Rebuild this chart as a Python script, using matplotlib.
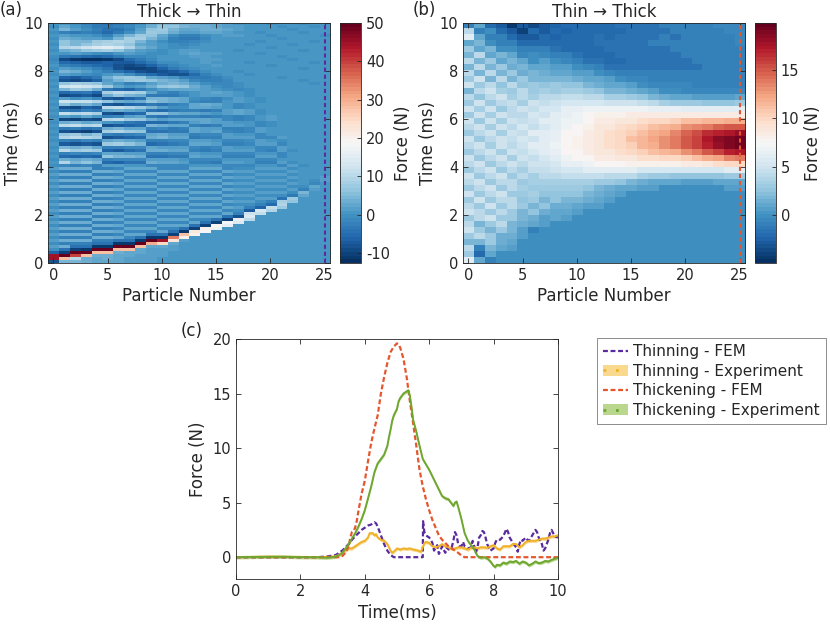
import numpy as np
import matplotlib
matplotlib.use("Agg")
import matplotlib.pyplot as plt
from matplotlib.patches import Patch
from matplotlib.lines import Line2D

plt.rcParams["font.family"] = ["DejaVu Sans"]
plt.rcParams["text.color"] = "#262626"
plt.rcParams["axes.labelcolor"] = "#262626"
plt.rcParams["axes.unicode_minus"] = False

# ---- panel (a): force per particle, 0.125 ms bins, rows from t=10 (top) down to t=0
particles = np.arange(26)
force_thick_to_thin = [
    [1, 1, 0, -2, -3, -4, -3, -2, 0, 3, 5, 5, 4, 4, 3, 3, 2, 1, 1, 1, 0, 1, 1, 0, 1, 1],
    [0, 3, 1, -1, -3, -3, -2, -1, 1, 4, 6, 6, 5, 4, 4, 3, 2, 2, 1, 1, 1, 0, 1, 1, 0, 1],
    [1, 5, 2, 0, -2, -4, -4, -2, 2, 6, 7, 5, 3, 3, 4, 4, 3, 2, 1, 1, 1, 1, 0, 1, 1, 1],
    [0, -2, -3, -2, -3, -5, -3, 0, 3, 7, 6, 4, 2, 2, 3, 3, 2, 1, 1, 0, 1, 1, 1, 0, 1, 1],
    [1, 2, 1, 1, 0, -2, 2, 5, 7, 6, 3, 0, -2, -2, 0, 1, 2, 2, 1, 1, 0, 1, 1, 1, 1, 0],
    [0, 4, 3, 2, 2, 1, 5, 8, 8, 5, 2, -2, -3, -3, -1, 1, 1, 1, 1, 1, 1, 0, 1, 1, 1, 1],
    [1, 6, 5, 5, 7, 8, 9, 8, 5, 2, 0, -2, -2, -1, 0, 1, 1, 1, 1, 0, 1, 1, 1, 1, 0, 1],
    [0, 6, 5, 6, 8, 9, 8, 6, 3, 2, 1, 0, -1, 0, 1, 1, 1, 1, 0, 1, 1, 1, 0, 1, 1, 1],
    [1, 9, 10, 12, 14, 15, 13, 9, 5, 3, 1, 0, 0, 1, 1, 1, 1, 1, 1, 1, 0, 1, 1, 1, 1, 1],
    [0, 4, 5, 6, 7, 8, 6, 4, 2, 1, 0, 1, 2, 2, 1, 1, 1, 0, 1, 1, 1, 1, 1, 0, 1, 1],
    [1, 1, 2, 1, 0, -1, 1, 2, 1, 0, 0, 1, 2, 3, 2, 2, 1, 1, 1, 0, 1, 1, 1, 1, 1, 1],
    [0, -3, -4, -5, -6, -5, -3, -1, -1, 0, 1, 1, 1, 2, 2, 1, 1, 1, 1, 1, 1, 0, 1, 1, 1, 1],
    [-1, -9, -11, -12, -12, -11, -9, -5, -3, -1, 1, 1, 1, 1, 2, 2, 1, 1, 1, 1, 1, 1, 0, 1, 1, 1],
    [0, -5, -6, -7, -7, -6, -7, -7, -5, -3, 0, 0, 1, 1, 2, 1, 1, 1, 0, 1, 1, 1, 1, 1, 0, 1],
    [1, -2, -3, -4, -5, -6, -8, -9, -8, -6, -3, -1, 0, 1, 1, 2, 1, 1, 1, 1, 0, 1, 1, 1, 1, 1],
    [0, 2, 1, 0, -2, -4, -8, -10, -10, -9, -6, -3, -1, 0, 1, 1, 1, 1, 1, 1, 1, 1, 1, 0, 1, 1],
    [1, 5, 4, 2, 0, -2, -4, -6, -8, -9, -8, -7, -5, -2, 0, 1, 1, 0, 1, 1, 1, 1, 1, 1, 1, 1],
    [0, 2, 1, 0, -1, 1, 2, 0, -3, -5, -7, -8, -8, -5, -2, 0, 1, 1, 0, 1, 1, 1, 1, 1, 1, 1],
    [1, -6, -7, -5, -3, 4, 6, 7, 6, 3, 2, 1, -2, -3, -3, -2, 0, 1, 1, 1, 1, 0, 1, 1, 1, 1],
    [0, -8, -9, -8, -6, 2, 5, 6, 7, 6, 5, 4, 2, -1, -2, -2, -1, 1, 1, 1, 1, 1, 1, 0, 1, 1],
    [1, 6, 8, 7, 6, 3, 1, -2, -1, 2, 4, 5, 4, 2, 0, -1, -1, 0, 1, 1, 1, 1, 1, 1, 0, 1],
    [0, 12, 13, 12, 11, 7, 3, 1, 2, 4, 6, 7, 6, 4, 2, 0, -1, 0, 1, 1, 1, 1, 1, 1, 1, 1],
    [1, 5, 7, 6, 4, -3, -5, -6, -3, 0, 2, 3, 3, 3, 2, 1, 0, -1, 0, 1, 1, 1, 1, 1, 1, 1],
    [0, -5, -4, -3, -6, 8, 10, 9, 8, 3, -1, -2, 0, 1, 2, 3, 2, 1, 0, 1, 1, 1, 1, 1, 1, 1],
    [1, -9, -8, -7, -9, 4, 6, 5, 4, -3, -3, -3, -1, 1, 2, 2, 2, 1, 0, 1, 1, 1, 1, 1, 1, 1],
    [0, 2, 0, 1, -1, -7, -8, -6, -4, 5, 5, 4, 3, 0, -1, -2, 0, 2, 1, 0, 1, 1, 1, 1, 1, 1],
    [1, 12, 11, 11, 9, 6, 4, 3, 4, 6, 5, 4, 3, -1, -2, -2, 1, 2, 1, 0, 1, 1, 1, 1, 1, 1],
    [0, 6, 4, 5, 3, -7, -8, -6, -5, -3, -4, -2, -1, 3, 4, 3, 1, -1, 0, 1, 1, 1, 1, 1, 1, 1],
    [1, -8, -9, -6, -7, 10, 11, 9, 7, 5, 2, 0, 0, 3, 3, 2, 1, -1, 0, 1, 1, 1, 1, 1, 1, 1],
    [0, -3, -4, -2, -3, 3, 4, 3, 2, -4, -5, -3, -2, -2, -3, -2, 2, 3, 2, 0, 1, 1, 1, 1, 1, 1],
    [1, 11, 9, 10, 8, -8, -9, -6, -5, 6, 6, 4, 3, 3, 2, 1, 2, 3, 2, 0, 1, 1, 1, 1, 1, 1],
    [0, 2, 1, 3, 1, -2, -1, 2, 3, -3, -4, -2, -2, -2, -3, -2, -1, -2, -1, 1, 2, 1, 1, 1, 1, 1],
    [1, -9, -10, -8, -9, 9, 10, 7, 6, 4, 2, 3, 3, 3, 3, 2, -1, -2, -1, 1, 2, 1, 1, 1, 1, 1],
    [0, 4, 5, 3, 4, 1, 0, -3, -4, -5, -5, -3, -2, 2, 3, 2, 2, 1, 1, -1, 0, 1, 1, 1, 1, 1],
    [1, 10, 11, 9, 10, -8, -7, -6, -5, 5, 4, 3, 3, -2, -3, -2, 2, 2, 1, -1, 0, 1, 1, 1, 1, 1],
    [0, -3, -2, -4, -3, 4, 5, 3, 3, -2, -1, -3, -2, 3, 2, 2, -2, -2, -1, 2, 1, 1, 1, 1, 1, 1],
    [1, -8, -9, -10, -8, 8, 9, 7, 6, -4, -4, -3, -3, 3, 2, 3, -1, -2, -1, 2, 1, 1, 1, 1, 1, 1],
    [0, 6, 7, 5, 6, -2, -3, -2, -1, 3, 4, 2, 2, -2, -1, -1, 2, 1, 1, -1, 1, 1, 1, 1, 1, 1],
    [1, 9, 10, 9, 8, -8, -7, -6, -5, 4, 5, 3, 3, -3, -2, -2, 2, 2, 2, -1, -1, 2, 1, 1, 1, 1],
    [0, -2, -3, -1, -2, 3, 4, 3, 2, -2, -2, -1, -1, 2, 2, 1, -1, -1, 0, 2, 1, 0, 1, 1, 1, 1],
    [1, -7, -8, -7, -8, 7, 8, 6, 5, -5, -4, -3, -2, 3, 3, 2, -2, -2, -1, 2, 2, -1, 1, 1, 1, 1],
    [0, 5, 4, 5, 3, -2, -2, -1, -1, 3, 2, 2, 2, -1, -2, -1, 2, 1, 1, -1, -1, 2, 1, 1, 1, 1],
    [1, 10, 7, 8, 7, -6, -7, -5, -4, 4, 4, 3, 3, -2, -3, -2, 2, 2, 2, -1, -2, 2, 0, 1, 1, 1],
    [0, -2, -1, -2, -1, 3, 3, 2, 2, -2, -2, -1, -1, 2, 1, 1, -1, -1, -1, 1, 1, -1, 1, 1, 1, 1],
    [1, -5, -6, -5, -6, 6, 5, 5, 4, -4, -4, -3, -3, 3, 2, 2, -2, -2, -2, 2, 2, -1, 1, 1, 1, 1],
    [0, 4, 3, 4, 3, -2, -1, -1, -1, 2, 2, 2, 1, -1, -1, -1, 1, 1, 1, -1, -1, 1, 1, 1, 1, 1],
    [1, 9, 5, 6, 5, -5, -6, -4, -4, 4, 3, 3, 2, -2, -2, -3, 2, 2, 1, -2, -2, 2, 0, 1, 1, 1],
    [0, -1, -2, -1, -2, 2, 2, 1, 1, -1, -1, -1, -1, 1, 1, 1, -1, -1, -1, 1, 1, -1, 2, 0, 1, 1],
    [2, 4, 4, 4, -2, -2, -1, 3, 3, 3, -1, -1, -1, 3, 3, 3, -1, 0, 0, 2, 2, 2, 0, 1, 1, 1],
    [0, -2, -2, -2, 4, 4, 3, -1, -1, -1, 3, 3, 3, -1, -1, -1, 3, 2, 2, 0, 0, 0, 2, 1, 1, 1],
    [2, 4, 4, 4, -2, -2, -1, 3, 3, 3, -1, -1, -1, 3, 3, 3, -1, 0, 0, 2, 2, 2, 0, 1, 1, 1],
    [0, -2, -2, -2, 4, 4, 3, -1, -1, -1, 3, 3, 3, -1, -1, -1, 3, 2, 2, 0, 0, 0, 2, 1, 1, 2],
    [2, 4, 4, 4, -2, -2, -1, 3, 3, 3, -1, -1, -1, 3, 3, 3, -1, 0, 0, 2, 2, 2, 0, 1, 0, 2],
    [0, -2, -2, -2, 4, 4, 3, -1, -1, -1, 3, 3, 3, -1, -1, -1, 3, 2, 2, 0, 0, 0, 2, 1, -1, 1],
    [2, 4, 4, 4, -2, -2, -1, 3, 3, 3, -1, -1, -1, 3, 3, 3, -1, 0, 0, 2, 2, 2, 0, 0, 3, 1],
    [0, -2, -2, -2, 4, 4, 3, -1, -1, -1, 3, 3, 3, -1, -1, -1, 3, 2, 2, 0, 0, 0, 2, -2, 2, 1],
    [2, 4, 4, 4, -2, -2, -1, 3, 3, 3, -1, -1, -1, 3, 3, 3, -1, 0, 0, 2, 2, 2, 0, 5, 1, 1],
    [0, -2, -2, -2, 4, 4, 3, -1, -1, -1, 3, 3, 3, -1, -1, -1, 3, 2, 2, 0, 0, 0, -3, 3, 1, 1],
    [2, 4, 4, 4, -2, -2, -1, 3, 3, 3, -1, -1, -1, 3, 3, 3, -1, 0, 0, 2, 2, -4, 7, 1, 1, 1],
    [0, -2, -2, -2, 4, 4, 3, -1, -1, -1, 3, 3, 3, -1, -1, -1, 3, 2, 2, 0, -2, 8, 6, 1, 1, 1],
    [2, 4, 4, 4, -2, -2, -1, 3, 3, 3, -1, -1, -1, 3, 3, 3, -1, 0, 0, -2, -5, 9, 1, 1, 1, 1],
    [0, -2, -2, -2, 4, 4, 3, -1, -1, -1, 3, 3, 3, -1, -1, -1, 3, 2, -2, -6, 11, 7, 1, 1, 1, 1],
    [2, 4, 4, 4, -2, -2, -1, 3, 3, 3, -1, -1, -1, 3, 3, 3, -1, 0, -7, 13, 9, 1, 1, 1, 1, 1],
    [0, -2, -2, -2, 4, 4, 3, -1, -1, -1, 3, 3, 3, -1, -1, -1, 3, -2, 12, 11, 1, 1, 1, 1, 1, 1],
    [2, 4, 4, 4, -2, -2, -1, 3, 3, 3, -1, -1, -1, 3, 3, 3, -4, -8, 14, 1, 1, 1, 1, 1, 1, 1],
    [0, -2, -2, -2, 4, 4, 3, -1, -1, -1, 3, 3, 3, -1, -1, -4, -10, 16, 10, 1, 1, 1, 1, 1, 1, 1],
    [2, 4, 4, 4, -2, -2, -1, 3, 3, 3, -1, -1, -1, 3, -4, -10, 18, 14, 1, 1, 1, 1, 1, 1, 1, 1],
    [0, -2, -2, -2, 4, 4, 3, -1, -1, -1, 3, 3, 3, -4, -10, 19, 16, 1, 1, 1, 1, 1, 1, 1, 1, 1],
    [2, 4, 4, 4, -2, -2, -1, 3, 3, 3, -1, -1, -4, -10, 20, 17, 1, 1, 1, 1, 1, 1, 1, 1, 1, 1],
    [0, -2, -2, -2, 4, 4, 3, -1, -1, -1, 3, -4, -11, 22, 18, 1, 1, 1, 1, 1, 1, 1, 1, 1, 1, 1],
    [2, 4, 4, 4, -2, -2, -1, 3, 3, -4, -4, -10, 28, 20, 1, 1, 1, 1, 1, 1, 1, 1, 1, 1, 1, 1],
    [0, -2, -2, -2, 4, 4, 3, -1, -4, -11, -11, 35, 20, 1, 1, 1, 1, 1, 1, 1, 1, 1, 1, 1, 1, 1],
    [2, 4, 4, 4, -2, -2, -4, -4, -11, 50, 45, 22, 2, 1, 1, 1, 1, 1, 1, 1, 1, 1, 1, 1, 1, 1],
    [0, -2, -2, -2, -4, -4, -11, -11, 50, 30, 25, 3, 1, 1, 1, 1, 1, 1, 1, 1, 1, 1, 1, 1, 1, 1],
    [2, 4, -4, -4, -11, -11, 50, 50, 28, 3, 3, 2, 1, 1, 1, 1, 1, 1, 1, 1, 1, 1, 1, 1, 1, 1],
    [0, -4, -10, -11, 50, 50, 28, 28, 3, 2, 2, 2, 1, 1, 1, 1, 1, 1, 1, 1, 1, 1, 1, 1, 1, 1],
    [-6, -10, 50, 50, 28, 28, 4, 3, 3, 2, 2, 1, 1, 1, 1, 1, 1, 1, 1, 1, 1, 1, 1, 1, 1, 1],
    [45, 50, 40, 28, 4, 4, 3, 3, 2, 2, 2, 1, 1, 1, 1, 1, 1, 1, 1, 1, 1, 1, 1, 1, 1, 1],
    [45, 28, 10, 4, 3, 4, 3, 2, 2, 2, 1, 1, 1, 1, 1, 1, 1, 1, 1, 1, 1, 1, 1, 1, 1, 1],
    [-8, 5, 5, 4, 3, 3, 3, 2, 2, 2, 1, 1, 1, 1, 1, 1, 1, 1, 1, 1, 1, 1, 1, 1, 1, 1],
]

# ---- panel (b): force per particle, 0.25 ms bins, rows from t=10 (top) down to t=0
force_thin_to_thick = [
    [-1, 1, -2, -3, -4.5, -3, -3.5, -3, -2.5, -2, -2, -2, -2, -2, -1.5, -1.5, -1.5, -1.5, -1, -1, -1, -1, -1, -0.5, -0.5, -0.5],
    [4, -1, 0, -2, -3, -4, -2, -3, -2, -2.5, -2, -2, -2, -2, -2, -1.5, -1.5, -1.5, -1.5, -1, -1, -1, -1, -1, -0.5, -0.5],
    [6, 1, -1, -1, -2, -3, -3, -2, -2.5, -2, -2, -2, -1.5, -2, -1.5, -1.5, -1.5, -1.5, -1, -1.5, -1, -1, -1, -1, -1, -0.5],
    [1, 2, 0, -1, -1, -2, -2, -2, -2, -2, -2, -2, -1.5, -1.5, -1.5, -1.5, -1.5, -1, -1, -1, -1, -1, -1, -1, -1, -0.5],
    [3, 1, 2, 0, 0, -1, -1, -1, -1.5, -2, -2, -2, -2, -1.5, -1.5, -1.5, -1.5, -1.5, -1.5, -1, -1, -1, -1, -1, -1, -1],
    [2, 4, 1, 2, 1, -0.5, 0, -0.5, -1, -1, -1.5, -2, -2, -2, -1.5, -1.5, -1.5, -1.5, -1.5, -1.5, -1, -1, -1, -1, -1, -1],
    [4, 2, 3, 1, 2, 1, 0, 0.5, 0, -0.5, -1, -1.5, -1.5, -2, -2, -1.5, -1.5, -1.5, -1.5, -1.5, -1.5, -1, -1, -1, -1, -1],
    [2, 4, 2, 3, 1.5, 2, 1, 1, 0.5, 0.5, 0, -0.5, -1, -1.5, -1.5, -1.5, -1.5, -1.5, -1.5, -1.5, -1.5, -1.5, -1, -1, -1, -1],
    [4, 2, 4, 2, 3, 1.5, 2, 1.5, 1, 1, 0.5, 0.5, 0, -0.5, -1, -1, -1, -1, -1, -1, -1, -1, -1, -1, -1, -1],
    [3, 5, 2, 4, 2, 3, 2, 2, 2, 2, 1.5, 1, 1, 0.5, 0, -0.5, -0.5, -1, -1, -1, -1, -1, -1, -1, -1, -1],
    [5, 3, 4, 2.5, 4, 2.5, 3, 2.5, 3, 2.5, 2.5, 2, 1.5, 1, 1, 0.5, 0, -0.5, -0.5, -0.5, -0.5, -1, -1, -1, -1, -1],
    [2, 4, 5, 3.5, 3, 4, 3, 3.5, 3, 3.5, 3.5, 3, 2.5, 2, 2, 1.5, 1, 0.5, 0, 0, -0.5, -0.5, -0.5, -0.5, -0.5, -0.5],
    [4, 2.5, 4, 5, 3.5, 4, 3.5, 4, 4, 4.5, 4.5, 4, 4, 3.5, 3.5, 3, 2.5, 2, 1.5, 1, 1, 0.5, 0.5, 0.5, 0.5, 1],
    [3, 5, 3, 4, 4.5, 3.5, 5, 4.5, 5, 5.5, 5.5, 5.5, 5.5, 5, 5, 5, 4.5, 4, 3.5, 3, 3, 3, 2.5, 2.5, 2.5, 3],
    [5, 3.5, 5, 3, 4, 5, 4.5, 5.5, 5.5, 6.5, 6.5, 7, 7, 7, 7, 7, 7, 6.5, 6.5, 6.5, 6, 6, 6, 6, 6, 6],
    [3, 5, 3.5, 5, 4, 4, 5.5, 5, 6, 6.5, 7, 7.5, 8, 8, 8, 8.5, 8.5, 8.5, 8.5, 8.5, 8.5, 8.5, 8.5, 8.5, 8.5, 8.5],
    [5, 3, 5, 3.5, 5, 4.5, 5, 6, 6, 7, 7, 7.5, 8.5, 8.5, 9, 9, 9.5, 10, 10, 10.5, 11, 11, 11.5, 11.5, 12, 12],
    [4, 5, 3.5, 5, 4, 5.5, 4.5, 5.5, 6, 7, 7.5, 8, 9, 9, 9.5, 10, 10.5, 11, 11.5, 12, 13, 13.5, 14, 14.5, 15, 15],
    [3, 4, 5, 3.5, 5, 4.5, 6, 6, 6.5, 7.5, 7.5, 8.5, 9, 9.5, 10, 10.5, 11, 12, 12.5, 13.5, 14.5, 15.5, 16.5, 17, 17.5, 18],
    [5, 3, 4, 5, 4.5, 5.5, 5, 6, 6.5, 7.5, 8, 8.5, 9, 9.5, 10, 11, 11.5, 12.5, 13, 14, 15, 16, 17.5, 18.5, 19, 19.5],
    [4, 5, 3.5, 5, 4, 5, 6, 6, 7, 7.5, 8, 8.5, 9, 9.5, 10, 10.5, 11.5, 12, 13, 14, 15, 16, 17, 18, 19, 19.5],
    [3, 4, 5, 3.5, 5, 4.5, 5.5, 6, 6.5, 7.5, 7.5, 8.5, 9, 9, 9.5, 10, 10.5, 11, 11.5, 12, 13, 14, 15, 16, 17, 17.5],
    [5, 3, 4, 5, 3.5, 5, 4.5, 5.5, 6, 7, 7.5, 7.5, 8.5, 8.5, 9, 9, 9.5, 9.5, 10, 10, 10.5, 11, 12, 12.5, 13.5, 14],
    [4, 5, 3, 4, 5, 4, 5, 5, 5.5, 6.5, 6.5, 7, 7.5, 7.5, 7.5, 8, 8, 8, 8, 8, 8.5, 8.5, 9, 9.5, 10, 10],
    [3, 4, 5, 3, 4, 3.5, 4.5, 4.5, 5, 5.5, 5.5, 6, 6, 6, 6, 6, 5.5, 5.5, 5.5, 5.5, 5.5, 5.5, 5.5, 5.5, 6, 6],
    [5, 3, 4, 5, 3, 4, 3.5, 4, 4, 4.5, 4.5, 4.5, 4.5, 4, 4, 4, 3.5, 3, 3, 2.5, 2.5, 2.5, 2.5, 2.5, 3, 3],
    [4, 5, 3, 4, 4, 3, 3.5, 3.5, 3.5, 3.5, 3.5, 3.5, 3, 3, 2.5, 2, 1.5, 1, 1, 1, 0.5, 0.5, 0.5, 1, 1, 1],
    [3, 4, 5, 3, 4, 3.5, 3, 3, 3, 3, 3, 2.5, 2, 1.5, 1, 1, 0.5, 0.5, 0, 0, 0, 0, 0, 0, 0.5, 0.5],
    [5, 3, 4, 5, 3, 3, 3.5, 2.5, 2.5, 2.5, 2.5, 2, 1.5, 1, 0.5, 0, 0, 0, 0, 0, 0, 0, 0, 0, 0, 0],
    [3, 5, 3, 4, 4, 2.5, 3, 2, 2.5, 2, 2, 1.5, 1, 0.5, 0, 0, 0, 0, 0, 0, 0, 0, 0, 0, 0, 0],
    [4, 3, 5, 3, 4, 3, 2, 2.5, 1.5, 1.5, 1, 0.5, 0.5, 0, 0, 0, 0, 0, 0, 0, 0, 0, 0, 0, 0, 0],
    [5, 4, 3, 4, 3, 2, 2.5, 1.5, 1, 1, 0.5, 0, 0, 0, 0, 0, 0, 0, 0, 0, 0, 0, 0, 0, 0, 0],
    [3, 4, 5, 3, 3, 2, 1.5, 0.5, 1, 0.5, 0, 0, 0, 0, 0, 0, 0, 0, 0, 0, 0, 0, 0, 0, 0, 0],
    [4, 2, 3, 4, 2, 1.5, 1, 0.5, 0, 0, 0, 0, 0, 0, 0, 0, 0, 0, 0, 0, 0, 0, 0, 0, 0, 0],
    [5, 3, 2, 3, 2, 0.5, -1, 0, 0, 0, 0, 0, 0, 0, 0, 0, 0, 0, 0, 0, 0, 0, 0, 0, 0, 0],
    [3, 4, 3, 1.5, 1.5, 0.5, 0, 0, 0, 0, 0, 0, 0, 0, 0, 0, 0, 0, 0, 0, 0, 0, 0, 0, 0, 0],
    [2, 2, 3, 1.5, 1, 0, 0, 0, 0, 0, 0, 0, 0, 0, 0, 0, 0, 0, 0, 0, 0, 0, 0, 0, 0, 0],
    [4, -1, 2, 1, 0.5, 0, 0, 0, 0, 0, 0, 0, 0, 0, 0, 0, 0, 0, 0, 0, 0, 0, 0, 0, 0, 0],
    [3, -2, 1, 0, 0, 0, 0, 0, 0, 0, 0, 0, 0, 0, 0, 0, 0, 0, 0, 0, 0, 0, 0, 0, 0, 0],
    [6, 1, -1, 0, -0.3, -0.3, -0.3, -0.3, -0.3, -0.3, -0.3, -0.3, -0.3, -0.3, -0.3, -0.3, -0.3, -0.3, -0.3, -0.3, -0.3, -0.3, -0.3, -0.3, -0.3, -0.3],
]

# ---- panel (c): force at the last particle
t_thin_fem = [0, 2.5, 2.8, 3.0, 3.1, 3.2, 3.3, 3.4, 3.5, 3.6, 3.7, 3.8, 3.9, 4.0, 4.1, 4.2, 4.3, 4.35, 4.4, 4.5,
              4.6, 4.7, 4.8, 4.9, 5.8, 5.81, 5.85, 5.9, 6.0, 6.05, 6.1, 6.15, 6.2, 6.25, 6.3, 6.35, 6.4, 6.5, 6.55, 6.6,
              6.7, 6.75, 6.8, 6.85, 6.9, 6.95, 7.0, 7.05, 7.1, 7.2, 7.3, 7.35, 7.4, 7.45, 7.5, 7.55, 7.6, 7.65, 7.7, 7.75,
              7.8, 7.85, 7.9, 8.0, 8.05, 8.1, 8.2, 8.3, 8.4, 8.45, 8.5, 8.6, 8.7, 8.75, 8.8, 8.85, 8.9, 9.0, 9.05, 9.1,
              9.2, 9.3, 9.35, 9.4, 9.5, 9.55, 9.6, 9.7, 9.75, 9.8, 9.85, 9.9, 10.0]
f_thin_fem = [0, 0, 0.05, 0.15, 0.2, 0.4, 0.6, 0.9, 1.2, 1.6, 1.9, 2.2, 2.5, 2.7, 2.9, 3.0, 3.2, 3.1, 2.8, 2.0,
              1.2, 0.6, 0.2, 0.0, 0.0, 3.3, 2.3, 2.0, 1.8, 1.6, 1.3, 0.6, 0.9, 1.1, 0.3, 0.6, 1.0, 0.4, 0.9, 0.7,
              0.9, 1.5, 2.3, 2.0, 1.2, 1.0, 1.0, 1.4, 1.0, 0.8, 0.9, 1.5, 1.0, 0.4, 0.9, 1.8, 2.0, 2.4, 2.3, 1.8,
              1.2, 0.9, 0.6, 0.8, 1.3, 1.6, 1.6, 1.9, 2.6, 2.3, 1.8, 1.3, 0.9, 0.5, 1.2, 1.6, 1.5, 1.8, 1.6, 1.5,
              2.0, 2.5, 2.3, 1.8, 1.2, 0.6, 0.8, 1.6, 2.2, 2.5, 2.2, 1.9, 1.8]

t_thin_exp = [0, 0.5, 1.0, 1.5, 2.0, 2.5, 2.8, 3.0, 3.1, 3.2, 3.3, 3.4, 3.5, 3.6, 3.7, 3.8, 3.9, 4.0, 4.1, 4.15,
              4.2, 4.25, 4.3, 4.35, 4.4, 4.5, 4.6, 4.7, 4.75, 4.8, 4.85, 4.9, 5.0, 5.1, 5.2, 5.3, 5.4, 5.5, 5.6, 5.7,
              5.75, 5.8, 5.85, 5.9, 6.0, 6.1, 6.2, 6.3, 6.4, 6.5, 6.6, 6.7, 6.8, 6.9, 7.0, 7.1, 7.2, 7.3, 7.4, 7.5,
              7.6, 7.7, 7.8, 7.9, 8.0, 8.1, 8.2, 8.3, 8.4, 8.5, 8.6, 8.7, 8.8, 8.9, 9.0, 9.1, 9.2, 9.3, 9.4, 9.5,
              9.6, 9.7, 9.8, 9.9, 10.0]
f_thin_exp = [0, 0.02, 0.05, 0.03, 0.02, 0.0, 0.02, 0.05, 0.1, 0.2, 0.4, 0.6, 0.8, 0.8, 1.0, 1.2, 1.4, 1.5, 1.8, 2.2,
              2.2, 2.2, 2.0, 2.1, 1.8, 1.6, 1.5, 1.2, 0.9, 0.6, 0.4, 0.5, 0.8, 0.7, 0.8, 0.75, 0.8, 0.7, 0.65, 0.55,
              0.5, 0.9, 1.3, 1.4, 1.3, 1.0, 0.9, 1.0, 1.2, 1.0, 0.9, 0.75, 0.8, 0.9, 0.9, 0.8, 0.7, 0.85, 0.9, 0.8,
              0.9, 0.9, 0.85, 1.0, 1.1, 0.8, 0.7, 1.0, 1.0, 1.0, 1.2, 1.2, 0.9, 1.1, 1.4, 1.5, 1.5, 1.5, 1.6, 1.7,
              1.7, 1.8, 1.9, 1.9, 2.0]

t_thick_fem = [0, 3.2, 3.3, 3.4, 3.5, 3.55, 3.6, 3.65, 3.7, 3.75, 3.8, 3.9, 4.0, 4.1, 4.2, 4.3, 4.4, 4.5, 4.6, 4.7,
               4.8, 4.9, 5.0, 5.05, 5.1, 5.2, 5.3, 5.4, 5.5, 5.6, 5.7, 5.8, 5.9, 6.0, 6.1, 6.2, 6.3, 6.4, 6.5, 6.6,
               6.7, 6.8, 6.9, 7.0, 7.1, 10.0]
f_thick_fem = [0, 0, 0.1, 0.4, 1.0, 1.8, 2.3, 2.4, 2.7, 3.3, 4.2, 5.8, 7.0, 8.8, 10.5, 11.8, 13.0, 15.0, 16.5, 17.8,
               18.8, 19.3, 19.6, 19.5, 19.2, 18.2, 16.5, 14.3, 12.3, 10.2, 8.0, 6.5, 5.3, 4.3, 3.4, 2.7, 2.0, 1.6, 1.3, 1.0,
               0.8, 0.6, 0.4, 0.15, 0.0, 0.0]

t_thick_exp = [0, 0.5, 1.0, 1.5, 2.0, 2.5, 2.8, 3.0, 3.1, 3.2, 3.3, 3.4, 3.5, 3.6, 3.7, 3.8, 3.9, 4.0, 4.1, 4.2,
               4.3, 4.4, 4.5, 4.6, 4.7, 4.75, 4.8, 4.85, 4.9, 5.0, 5.05, 5.1, 5.2, 5.3, 5.35, 5.4, 5.45, 5.5, 5.6, 5.7,
               5.8, 5.9, 6.0, 6.1, 6.2, 6.3, 6.4, 6.5, 6.6, 6.7, 6.75, 6.8, 6.85, 6.9, 7.0, 7.1, 7.2, 7.3, 7.4, 7.5,
               7.6, 7.7, 7.8, 7.9, 8.0, 8.05, 8.1, 8.2, 8.3, 8.4, 8.5, 8.6, 8.7, 8.8, 8.9, 9.0, 9.1, 9.2, 9.3, 9.4,
               9.5, 9.6, 9.7, 9.8, 9.9, 10.0]
f_thick_exp = [0, 0.02, 0.03, 0.04, 0.0, 0.0, -0.05, 0.0, 0.05, 0.2, 0.4, 0.8, 1.2, 1.7, 2.2, 2.8, 3.5, 4.3, 5.4, 6.5,
               7.8, 8.6, 9.0, 9.4, 10.2, 11.0, 11.7, 12.5, 13.0, 13.6, 14.3, 14.6, 15.0, 15.2, 15.3, 14.8, 13.8, 12.6, 11.5, 10.2,
               9.0, 8.5, 8.0, 7.4, 6.8, 6.2, 5.6, 5.4, 5.3, 4.9, 4.7, 5.0, 5.1, 4.6, 3.5, 2.2, 1.5, 1.1, 0.7, 0.1,
               -0.05, 0.0, -0.1, -0.4, -0.8, -0.9, -0.7, -0.75, -0.5, -0.6, -0.4, -0.45, -0.35, -0.6, -0.4, -0.5, -0.75, -0.6, -0.4, -0.55,
               -0.5, -0.35, -0.4, -0.25, -0.15, -0.05]

purple = "#5a2a9e"
red = "#e4572e"
yellow = "#f0b22c"
yellow_lt = "#f8d98e"
green = "#6ea730"
green_lt = "#b9d78f"
dark = "#262626"

W, H = 830, 628


def box(x0, y0, x1, y1):
    return [x0 / W, 1 - y1 / H, (x1 - x0) / W, (y1 - y0) / H]


def style(ax):
    ax.tick_params(direction="in", top=True, right=True, length=3.5, width=0.6,
                   colors=dark, labelsize=10.5)
    for s in ax.spines.values():
        s.set_color(dark)
        s.set_linewidth(0.6)


fig = plt.figure(figsize=(8.3, 6.28), dpi=100)
cmap = plt.get_cmap("RdBu_r", 64)

panels = [
    (force_thick_to_thin, -12.6, 50, [-10, 0, 10, 20, 30, 40, 50], "Thick \u2192 Thin", purple,
     box(48, 23, 330, 263), box(340, 23, 361, 263)),
    (force_thin_to_thick, -5.0, 19.9, [0, 5, 10, 15], "Thin \u2192 Thick", red,
     box(463, 23, 745, 263), box(755, 23, 776, 263)),
]
for data, lo, hi, cticks, title, lc, rect, crect in panels:
    ax = fig.add_axes(rect)
    im = ax.imshow(np.array(data, dtype=float), cmap=cmap, vmin=lo, vmax=hi, aspect="auto",
                   interpolation="nearest", extent=[particles[0] - 0.5, particles[-1] + 0.5, 0, 10])
    ax.axvline(particles[-1], color=lc, ls=(0, (2, 1.4)), lw=1.5)
    ax.set_xlim(-0.5, 25.5)
    ax.set_ylim(0, 10)
    ax.set_xticks([0, 5, 10, 15, 20, 25])
    ax.set_yticks([0, 2, 4, 6, 8, 10])
    ax.set_xlabel("Particle Number", fontsize=12, labelpad=3)
    ax.set_ylabel("Time (ms)", fontsize=12, labelpad=2)
    ax.set_title(title, fontsize=12, pad=4)
    style(ax)
    cax = fig.add_axes(crect)
    cb = fig.colorbar(im, cax=cax)
    cb.set_ticks(cticks)
    cb.ax.tick_params(direction="in", length=3, width=0.6, colors=dark, labelsize=10.5)
    cb.outline.set_edgecolor(dark)
    cb.outline.set_linewidth(0.6)
    cb.set_label("Force (N)", fontsize=12, labelpad=3)

axc = fig.add_axes(box(236, 339, 558, 579))
axc.plot(t_thin_fem, f_thin_fem, color=purple, ls=(0, (2.2, 1.2)), lw=1.6)
axc.fill_between(t_thin_exp, np.array(f_thin_exp) - 0.15, np.array(f_thin_exp) + 0.15, color=yellow_lt, lw=0)
axc.plot(t_thin_exp, f_thin_exp, color=yellow, lw=1.4)
axc.plot(t_thick_fem, f_thick_fem, color=red, ls=(0, (2.2, 1.2)), lw=1.6)
axc.fill_between(t_thick_exp, np.array(f_thick_exp) - 0.15, np.array(f_thick_exp) + 0.15, color=green_lt, lw=0)
axc.plot(t_thick_exp, f_thick_exp, color=green, lw=1.4)
axc.set_xlim(0, 10)
axc.set_ylim(-2, 20)
axc.set_xticks([0, 2, 4, 6, 8, 10])
axc.set_yticks([0, 5, 10, 15, 20])
axc.set_xlabel("Time(ms)", fontsize=12, labelpad=4)
axc.set_ylabel("Force (N)", fontsize=12)
style(axc)

handles = [
    Line2D([], [], color=purple, ls=(0, (2.2, 1.2)), lw=1.6),
    (Patch(facecolor=yellow_lt, edgecolor="none"), Line2D([], [], color=yellow, ls=(0, (1, 3.5)), lw=2)),
    Line2D([], [], color=red, ls=(0, (2.2, 1.2)), lw=1.6),
    (Patch(facecolor=green_lt, edgecolor="none"), Line2D([], [], color=green, ls=(0, (1, 3.5)), lw=2)),
]
labels = ["Thinning - FEM", "Thinning - Experiment", "Thickening - FEM", "Thickening - Experiment"]
leg = fig.legend(handles, labels, loc="upper left", bbox_to_anchor=(597 / W, 1 - 338 / H),
                 fontsize=11, frameon=True, fancybox=False, framealpha=1, edgecolor="#8c8c8c",
                 handlelength=1.6, handletextpad=0.35, borderpad=0.4, labelspacing=0.3, borderaxespad=0)
leg.get_frame().set_linewidth(0.7)

fig.text(0.0, 1 - 10 / H, "(a)", fontsize=12, va="center", ha="left")
fig.text(413 / W, 1 - 10 / H, "(b)", fontsize=12, va="center", ha="left")
fig.text(181 / W, 1 - 331 / H, "(c)", fontsize=12, va="center", ha="left")

fig.savefig("out.png", dpi=100)
